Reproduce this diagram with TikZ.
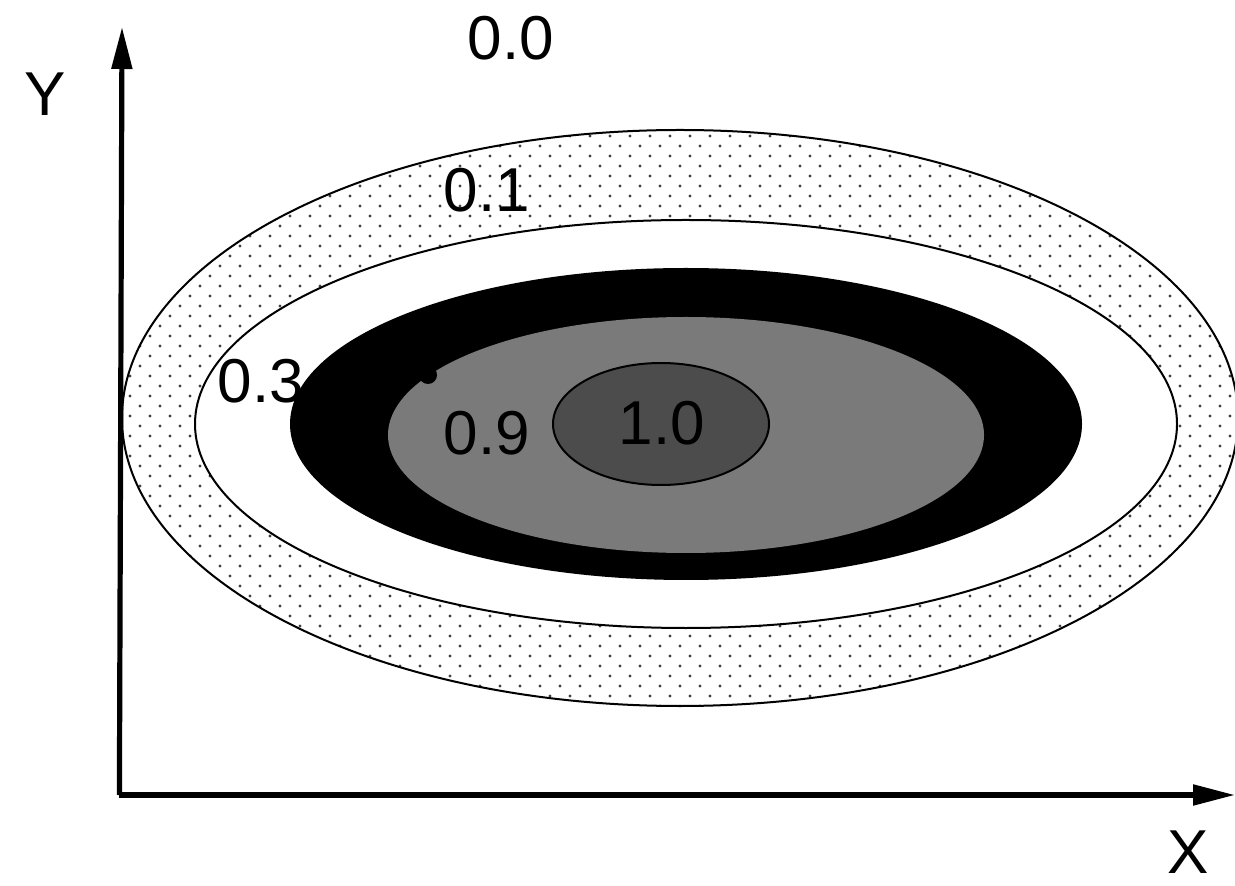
\documentclass[tikz,border=0pt]{standalone}
\usepackage{fontspec}
\setmainfont{Liberation Sans}
\usetikzlibrary{arrows.meta,patterns}
\pgfdeclarepatternformonly{stagdots}{\pgfpoint{-2pt}{-2pt}}{\pgfpoint{12pt}{12pt}}{\pgfpoint{10pt}{10pt}}{%
  \pgfpathcircle{\pgfpoint{0pt}{0pt}}{0.85pt}%
  \pgfpathcircle{\pgfpoint{5pt}{5pt}}{0.85pt}%
  \pgfusepath{fill}}
\tikzset{
  lbl/.style={font=\fontsize{31}{36}\selectfont, inner sep=0pt, text=black},
  ring/.style={draw=black, line width=1pt},
  axis/.style={line width=2.6pt, -{Triangle[length=21pt,width=10pt]}}
}
\begin{document}
\begin{tikzpicture}[x=0.5pt,y=-0.5pt]
\useasboundingbox (0,0) rectangle (1235,886);
% outer dotted ring
\fill[white] (680,418) ellipse [x radius=558, y radius=288];
\fill[pattern=stagdots, pattern color=black!75] (680,418) ellipse [x radius=558, y radius=288];
\draw[ring] (680,418) ellipse [x radius=558, y radius=288];
% white ring
\fill[white] (686,424) ellipse [x radius=491, y radius=204];
\draw[ring] (686,424) ellipse [x radius=491, y radius=204];
% black region
\fill[black] (686,424) ellipse [x radius=396, y radius=156];
% gray 0.9 region
\fill[black!52] (686,435) ellipse [x radius=298, y radius=118];
\fill[black] (428,375) circle (9);
% 1.0 region
\filldraw[fill=black!70, draw=black, line width=1pt] (661,424) ellipse [x radius=108, y radius=61];
% labels
\node[lbl] (l00) at (511,38) {0.0};
\node[lbl] (l01) at (487,190) {0.1};
\node[lbl] (l03) at (261,381) {0.3};
\node[lbl] (l09) at (487,433) {0.9};
\node[lbl] (l10) at (662,423) {1.0};
\node[lbl] (ly) at (45,94) {Y};
\node[lbl] (lx) at (1188,852) {X};
% axes
\coordinate (o) at (122,795);
\coordinate (ytip) at (122,27);
\coordinate (xtip) at (1235,795);
\draw[axis] ([xshift=-1.3pt]o) -- (ytip);
\draw[axis] ([xshift=-1.3pt]o) -- (xtip);
\end{tikzpicture}
\end{document}
